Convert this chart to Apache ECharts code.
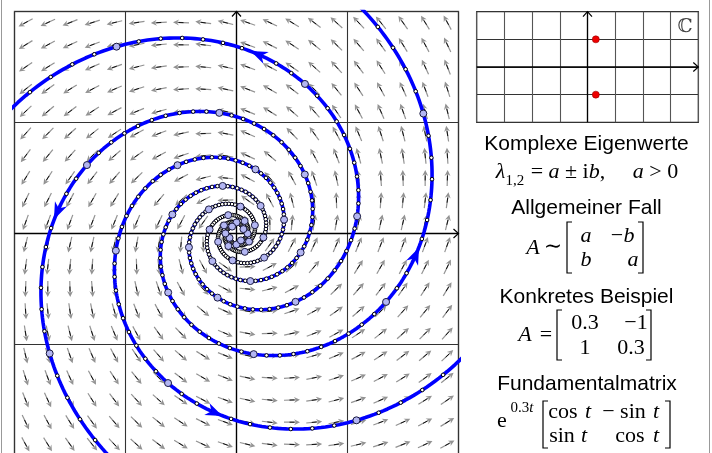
<!DOCTYPE html>
<html>
<head>
<meta charset="utf-8">
<script src="https://cdn.jsdelivr.net/npm/echarts@6/dist/echarts.min.js"></script>
<style>
  html, body { margin: 0; padding: 0; background: #fff; }
  #chart { width: 712px; height: 453px; }
</style>
</head>
<body>
<div id="chart"></div>
<script>
// system x' = A x, spiral source
const matrixA = [[0.3, -1], [1, 0.3]]
const planeRange = [-2, 2]
const fieldCoords = [-1.9, -1.7, -1.5, -1.3, -1.1, -0.9, -0.7, -0.5, -0.3, -0.1,
  0.1, 0.3, 0.5, 0.7, 0.9, 1.1, 1.3, 1.5, 1.7, 1.9]
// four trajectories, rotated by 90 degrees
const startPoints = [[-2.7, 0], [0, -2.7], [2.7, 0], [0, 2.7]]
const timeSpan = [-12, 0]
const dotStep = 0.1
const bigDotStep = 1
const arrowTime = -1.7
// eigenvalues in the small complex plane
const eigenvalues = [[0.3, 1], [0.3, -1]]
const complexXRange = [-4, 4]
const complexYRange = [-2, 2]

const FONT_SANS = '"Liberation Sans", Arial, sans-serif'
const FONT_MATH = '"Liberation Serif", "DejaVu Serif", serif'

const re = matrixA[0][0]
const im = matrixA[1][0]
// fundamental matrix e^{at}[cos t, -sin t; sin t, cos t] applied to p
function flow(p, t) {
  const s = Math.exp(re * t), c = Math.cos(im * t), n = Math.sin(im * t)
  return [s * (c * p[0] - n * p[1]), s * (n * p[0] + c * p[1])]
}

const fieldData = []
fieldCoords.forEach(x => {
  fieldCoords.forEach(y => {
    fieldData.push([x, y])
  })
})

const lineSeries = []
const smallDots = []
const bigDots = []
const arrowHeads = []
startPoints.forEach(p => {
  const pts = []
  const nFine = Math.round((timeSpan[1] - timeSpan[0]) / 0.02)
  for (let k = 0; k <= nFine; k++) pts.push(flow(p, timeSpan[0] + k * 0.02))
  lineSeries.push(pts)
  const nDot = Math.round((timeSpan[1] - timeSpan[0]) / dotStep)
  for (let k = 0; k <= nDot; k++) smallDots.push(flow(p, timeSpan[0] + k * dotStep))
  const nBig = Math.round((timeSpan[1] - timeSpan[0]) / bigDotStep)
  for (let k = 0; k <= nBig; k++) bigDots.push(flow(p, timeSpan[0] + k * bigDotStep))
  const q = flow(p, arrowTime)
  const v = [matrixA[0][0] * q[0] + matrixA[0][1] * q[1], matrixA[1][0] * q[0] + matrixA[1][1] * q[1]]
  arrowHeads.push([q[0], q[1], v[0], v[1]])
})

function fieldArrow(params, api) {
  const x = api.value(0), y = api.value(1)
  const c = api.coord([x, y])
  let vx = matrixA[0][0] * x + matrixA[0][1] * y
  let vy = matrixA[1][0] * x + matrixA[1][1] * y
  const len = Math.sqrt(vx * vx + vy * vy) || 1
  const dx = vx / len, dy = -vy / len
  const nx = -dy, ny = dx
  const L = 8
  const tip = [c[0] + dx * L, c[1] + dy * L]
  const tail = [c[0] - dx * L, c[1] - dy * L]
  const hb = [tip[0] - dx * 6, tip[1] - dy * 6]
  return {
    type: 'group',
    children: [
      { type: 'line', shape: { x1: tail[0], y1: tail[1], x2: hb[0] + dx * 2, y2: hb[1] + dy * 2 },
        style: { stroke: '#939393', lineWidth: 1.2 } },
      { type: 'polygon', shape: { points: [tip, [hb[0] + nx * 3, hb[1] + ny * 3], [hb[0] + dx * 2, hb[1] + dy * 2], [hb[0] - nx * 3, hb[1] - ny * 3]] },
        style: { fill: '#939393' } },
      { type: 'line', shape: { x1: c[0] - dx * 2.5, y1: c[1] - dy * 2.5, x2: c[0] + dx * 2.5, y2: c[1] + dy * 2.5 },
        style: { stroke: '#111', lineWidth: 1 } }
    ]
  }
}

function axisArrow(params, api) {
  const p1 = api.coord([api.value(0), api.value(1)])
  const p2 = api.coord([api.value(2), api.value(3)])
  const dx0 = p2[0] - p1[0], dy0 = p2[1] - p1[1]
  const l = Math.sqrt(dx0 * dx0 + dy0 * dy0)
  const dx = dx0 / l, dy = dy0 / l, nx = -dy, ny = dx
  return {
    type: 'group',
    children: [
      { type: 'line', shape: { x1: p1[0], y1: p1[1], x2: p2[0], y2: p2[1] },
        style: { stroke: '#000', lineWidth: 1.3 } },
      { type: 'polyline', shape: { points: [
          [p2[0] - dx * 5 + nx * 4.5, p2[1] - dy * 5 + ny * 4.5], p2,
          [p2[0] - dx * 5 - nx * 4.5, p2[1] - dy * 5 - ny * 4.5]] },
        style: { stroke: '#000', lineWidth: 1.2, fill: null } }
    ]
  }
}

function trajArrow(params, api) {
  const c = api.coord([api.value(0), api.value(1)])
  const vx = api.value(2), vy = -api.value(3)
  const l = Math.sqrt(vx * vx + vy * vy)
  const dx = vx / l, dy = vy / l, nx = -dy, ny = dx
  const tip = [c[0] + dx * 10, c[1] + dy * 10]
  const notch = [c[0] - dx * 2, c[1] - dy * 2]
  return {
    type: 'polygon',
    shape: { points: [tip,
      [c[0] - dx * 7 + nx * 6.5, c[1] - dy * 7 + ny * 6.5], notch,
      [c[0] - dx * 7 - nx * 6.5, c[1] - dy * 7 - ny * 6.5]] },
    style: { fill: '#0000ff' }
  }
}

const series = []
series.push({ type: 'custom', xAxisIndex: 0, yAxisIndex: 0, renderItem: fieldArrow, data: fieldData, clip: true, z: 1, silent: true })
series.push({ type: 'custom', xAxisIndex: 0, yAxisIndex: 0, renderItem: axisArrow,
  data: [[planeRange[0], 0, planeRange[1], 0], [0, planeRange[0], 0, planeRange[1]]], z: 2, silent: true })
lineSeries.forEach(pts => {
  series.push({ type: 'line', xAxisIndex: 0, yAxisIndex: 0, data: pts, showSymbol: false, clip: true,
    lineStyle: { color: '#0000ff', width: 3.6 }, z: 3, silent: true })
})
series.push({ type: 'scatter', xAxisIndex: 0, yAxisIndex: 0, data: smallDots, symbolSize: 3.6, clip: true,
  itemStyle: { color: '#fff', borderColor: '#000', borderWidth: 1, opacity: 1 }, z: 4, silent: true })
series.push({ type: 'scatter', xAxisIndex: 0, yAxisIndex: 0, data: bigDots, symbolSize: 7, clip: true,
  itemStyle: { color: '#b3b6f2', borderColor: '#1a1a40', borderWidth: 1, opacity: 1 }, z: 5, silent: true })
series.push({ type: 'custom', xAxisIndex: 0, yAxisIndex: 0, renderItem: trajArrow, data: arrowHeads, z: 6, silent: true })

series.push({ type: 'custom', xAxisIndex: 1, yAxisIndex: 1, renderItem: axisArrow,
  data: [[complexXRange[0], 0, complexXRange[1], 0], [0, complexYRange[0], 0, complexYRange[1]]], z: 2, silent: true })
series.push({ type: 'scatter', xAxisIndex: 1, yAxisIndex: 1, data: eigenvalues, symbolSize: 7,
  itemStyle: { color: '#ee0000', borderColor: '#900', borderWidth: 0.6, opacity: 1 }, z: 5, silent: true })

function hiddenAxis(min, max, gridIndex, color) {
  return {
    type: 'value', gridIndex, min, max, interval: 1,
    axisLine: { show: false }, axisTick: { show: false }, axisLabel: { show: false },
    splitLine: { show: true, lineStyle: { color, width: 1.1 } }
  }
}

// text panel
function label(text, x, y, size, font) {
  return { type: 'text', x, y, silent: true,
    style: { text, font: size + 'px ' + font, fill: '#000', align: 'center', verticalAlign: 'middle' } }
}
function mathText(text, x, y, size, italic, align) {
  return { type: 'text', x, y, silent: true,
    style: { text, font: (italic ? 'italic ' : '') + size + 'px ' + FONT_MATH, fill: '#000',
      align: align || 'center', verticalAlign: 'middle' } }
}
function bracket(x, y1, y2, side) {
  const s = side === 'left' ? 5 : -5
  return { type: 'polyline', silent: true,
    shape: { points: [[x + s, y1], [x, y1], [x, y2], [x + s, y2]] },
    style: { stroke: '#000', lineWidth: 1.2, fill: null } }
}

const richEigen = {
  type: 'text', x: 587, y: 172, silent: true,
  style: {
    text: '{m|λ}{s|1,2}{r| = }{m|a}{r| ± i}{m|b}{r|,     }{m|a}{r| > 0}',
    align: 'center', verticalAlign: 'middle',
    rich: {
      m: { font: 'italic 22px ' + FONT_MATH, fill: '#000', lineHeight: 24 },
      r: { font: '22px ' + FONT_MATH, fill: '#000', lineHeight: 24 },
      s: { font: '15px ' + FONT_MATH, fill: '#000', lineHeight: 15, verticalAlign: 'bottom', padding: [0, 1, -5, 0] }
    }
  }
}

const richExp = {
  type: 'text', x: 522, y: 408, silent: true,
  style: {
    text: '{r|0.3}{m|t}', align: 'center', verticalAlign: 'middle',
    rich: {
      r: { font: '15px ' + FONT_MATH, fill: '#000' },
      m: { font: 'italic 15px ' + FONT_MATH, fill: '#000' }
    }
  }
}

const graphics = [
  { type: 'line', silent: true, shape: { x1: 1.5, y1: 0, x2: 1.5, y2: 453 }, style: { stroke: '#999', lineWidth: 1 } },
  { type: 'line', silent: true, shape: { x1: 709.5, y1: 0, x2: 709.5, y2: 453 }, style: { stroke: '#999', lineWidth: 1 } },
  { type: 'text', x: 685, y: 27, silent: true,
    style: { text: 'ℂ', font: '19px "DejaVu Serif", serif', fill: '#444', align: 'center', verticalAlign: 'middle' } },
  label('Komplexe Eigenwerte', 586.5, 144, 21, FONT_SANS),
  richEigen,
  label('Allgemeiner Fall', 586.5, 208, 21, FONT_SANS),
  mathText('A', 533, 248, 22, true),
  mathText('∼', 553, 247, 22, false),
  bracket(567, 222, 273, 'left'),
  mathText('a', 586, 236, 22, true),
  mathText('−', 617, 236, 22, false),
  mathText('b', 629, 236, 22, true),
  mathText('b', 586, 260, 22, true),
  mathText('a', 633, 260, 22, true),
  bracket(643, 222, 273, 'right'),
  label('Konkretes Beispiel', 586.5, 297, 21, FONT_SANS),
  mathText('A', 525, 335, 22, true),
  mathText('=', 546, 335, 22, false),
  bracket(557, 310, 360, 'left'),
  mathText('0.3', 585, 323, 22, false),
  mathText('−1', 636, 323, 22, false),
  mathText('1', 585, 348, 22, false),
  mathText('0.3', 631, 348, 22, false),
  bracket(651, 310, 360, 'right'),
  label('Fundamentalmatrix', 587, 384, 21, FONT_SANS),
  mathText('e', 502, 421, 22, false),
  richExp,
  bracket(543, 401, 448, 'left'),
  mathText('cos', 563, 412, 22, false),
  mathText('t', 588, 412, 22, true),
  mathText('− sin', 624, 412, 22, false),
  mathText('t', 656, 412, 22, true),
  mathText('sin', 562, 436, 22, false),
  mathText('t', 584, 436, 22, true),
  mathText('cos', 630, 436, 22, false),
  mathText('t', 656, 436, 22, true),
  bracket(670, 401, 448, 'right')
]

const chart = echarts.init(document.getElementById('chart'), null, { renderer: 'canvas' })
chart.setOption({
  animation: false,
  backgroundColor: '#fff',
  grid: [
    { left: 14.5, top: 11.5, width: 444, height: 444, show: true, borderColor: '#666', borderWidth: 1.4,
      backgroundColor: 'transparent', outerBoundsMode: 'none' },
    { left: 476.7, top: 11.7, width: 221.6, height: 110.6, show: true, borderColor: '#222', borderWidth: 1.2,
      backgroundColor: 'transparent', outerBoundsMode: 'none' }
  ],
  xAxis: [hiddenAxis(planeRange[0], planeRange[1], 0, '#333'), hiddenAxis(complexXRange[0], complexXRange[1], 1, '#555')],
  yAxis: [hiddenAxis(planeRange[0], planeRange[1], 0, '#333'), hiddenAxis(complexYRange[0], complexYRange[1], 1, '#333')],
  series,
  graphic: graphics
})
</script>
</body>
</html>
